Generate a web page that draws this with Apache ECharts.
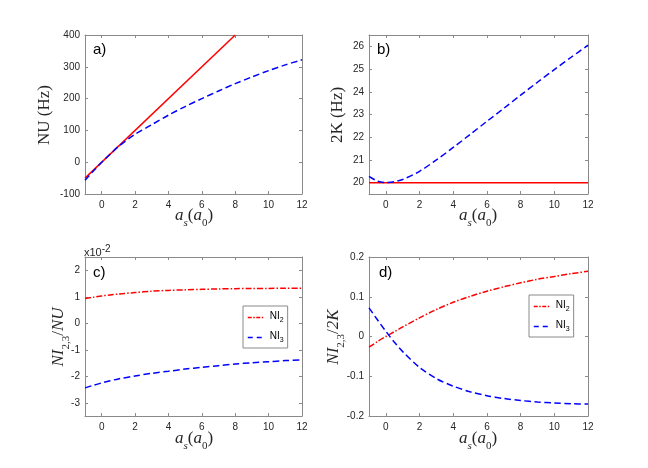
<!DOCTYPE html>
<html>
<head>
<meta charset="utf-8">
<script src="https://cdn.jsdelivr.net/npm/echarts@6/dist/echarts.min.js"></script>
<style>
  html, body { margin: 0; padding: 0; background: #fff; }
  #main { width: 648px; height: 468px; }
</style>
</head>
<body>
<div id="main"></div>
<script>
// x samples (a_s in units of a_0)
let xs = [-1, -0.5, 0, 0.5, 1, 2, 3, 4, 5, 6, 7, 8, 9, 10, 11, 12];
let xTicks = [0, 2, 4, 6, 8, 10, 12];

// a) NU (Hz)
let aLineX = [-1, 8];
let aLineY = [-50, 400];
let aDash = [-57, -28, 0, 25, 49, 88, 118, 148, 175, 200, 224, 247, 268, 288, 306, 322];
let aTicks = [-100, 0, 100, 200, 300, 400];

// b) 2K (Hz)
let bLineX = [-1, 12];
let bLineY = [20, 20];
let bDash = [20.28, 20.07, 20.0, 20.04, 20.14, 20.5, 21.0, 21.55, 22.12, 22.7, 23.27, 23.85, 24.42, 24.98, 25.52, 26.05];
let bTicks = [20, 21, 22, 23, 24, 25, 26];

// c) NI_{2,3}/NU, in units of 1e-2
let cNI2 = [0.93, 0.98, 1.03, 1.07, 1.10, 1.16, 1.21, 1.24, 1.26, 1.28, 1.295, 1.305, 1.31, 1.315, 1.32, 1.32];
let cNI3 = [-2.44, -2.34, -2.25, -2.17, -2.10, -1.99, -1.89, -1.81, -1.73, -1.66, -1.60, -1.54, -1.49, -1.45, -1.41, -1.38];
let cTicks = [-3, -2, -1, 0, 1, 2];

// d) NI_{2,3}/2K
let dNI2 = [-0.027, -0.013, 0.0, 0.012, 0.024, 0.047, 0.068, 0.086, 0.101, 0.114, 0.125, 0.135, 0.144, 0.151, 0.158, 0.164];
let dNI3 = [0.072, 0.042, 0.013, -0.014, -0.038, -0.078, -0.106, -0.125, -0.139, -0.149, -0.156, -0.161, -0.165, -0.167, -0.169, -0.170];
let dTicks = [-0.2, -0.1, 0, 0.1, 0.2];

function pairs(x, y) {
    let out = [];
    for (let i = 0; i < x.length; i++) out.push([x[i], y[i]]);
    return out;
}

let AXIS_COLOR = '#8a8a8a';
let LABEL_COLOR = '#262626';
let grids = [
    {left: 85, top: 35, width: 217, height: 159},
    {left: 369, top: 35, width: 219, height: 159},
    {left: 85, top: 257, width: 217, height: 159},
    {left: 369, top: 257, width: 219, height: 159}
];
let xAxes = [];
let yAxes = [];

function addAxes(g, yMin, yMax, yTickVals) {
    let line = {show: true, onZero: false, lineStyle: {color: AXIS_COLOR, width: 1}};
    let label = {fontFamily: 'Liberation Sans', fontSize: 10, color: LABEL_COLOR};
    ['bottom', 'top'].forEach(function (pos) {
        xAxes.push({
            type: 'value', gridIndex: g, position: pos, min: -1, max: 12,
            axisLine: line,
            axisTick: {show: true, inside: true, length: 3, customValues: xTicks, lineStyle: {color: AXIS_COLOR}},
            axisLabel: Object.assign({show: pos === 'bottom', margin: 6, customValues: xTicks}, label),
            splitLine: {show: false}
        });
    });
    ['left', 'right'].forEach(function (pos) {
        yAxes.push({
            type: 'value', gridIndex: g, position: pos, min: yMin, max: yMax,
            axisLine: line,
            axisTick: {show: true, inside: true, length: 3, customValues: yTickVals, lineStyle: {color: AXIS_COLOR}},
            axisLabel: Object.assign({show: pos === 'left', margin: 5, customValues: yTickVals}, label),
            splitLine: {show: false}
        });
    });
}
addAxes(0, -100, 400, aTicks);
addAxes(1, 19.5, 26.5, bTicks);
addAxes(2, -3.5, 2.5, cTicks);
addAxes(3, -0.2, 0.2, dTicks);

let RED = '#ff0000';
let BLUE = '#0000ff';
let DASH = [6.5, 3.5];
let DASHDOT = [6, 2, 1.5, 2];

function line(name, g, data, color, type) {
    return {
        name: name, type: 'line', xAxisIndex: 2 * g, yAxisIndex: 2 * g,
        data: data, symbol: 'none', smooth: 0.3, clip: true,
        lineStyle: {color: color, width: 1.5, type: type},
        itemStyle: {color: color}
    };
}

let series = [
    line('NU lin', 0, pairs(aLineX, aLineY), RED, 'solid'),
    line('NU', 0, pairs(xs, aDash), BLUE, DASH),
    line('2K lin', 1, pairs(bLineX, bLineY), RED, 'solid'),
    line('2K', 1, pairs(xs, bDash), BLUE, DASH),
    line('NI2', 2, pairs(xs, cNI2), RED, DASHDOT),
    line('NI3', 2, pairs(xs, cNI3), BLUE, DASH),
    line('NI2', 3, pairs(xs, dNI2), RED, DASHDOT),
    line('NI3', 3, pairs(xs, dNI3), BLUE, DASH)
];

let hiddenSymbol = {color: 'rgba(0,0,0,0)', borderColor: 'rgba(0,0,0,0)', borderWidth: 0, opacity: 0};
function legendAt(left, top) {
    return {
        data: [
            {name: 'NI2', itemStyle: hiddenSymbol, lineStyle: {color: RED, width: 1.5, type: [4, 1.5, 1.5, 1.5]}},
            {name: 'NI3', itemStyle: hiddenSymbol, lineStyle: {color: BLUE, width: 1.5, type: [5, 4]}}
        ],
        orient: 'vertical', left: left, top: top,
        itemWidth: 17, itemHeight: 8, itemGap: 7, padding: [5, 4, 4, 4],
        borderColor: '#8a8a8a', borderWidth: 1, backgroundColor: '#fff',
        selectedMode: false,
        itemStyle: hiddenSymbol,
        formatter: function (n) { return '{n|NI}{s|' + n.slice(2) + '}'; },
        textStyle: {
            fontFamily: 'Liberation Sans', fontSize: 9, color: '#000',
            rich: {
                n: {fontSize: 10, lineHeight: 13, verticalAlign: 'top'},
                s: {fontSize: 7, lineHeight: 13, verticalAlign: 'bottom'}
            }
        }
    };
}

let serifRich = {
    i: {fontFamily: 'Liberation Serif', fontStyle: 'italic', fontSize: 17, lineHeight: 21, verticalAlign: 'top'},
    r: {fontFamily: 'Liberation Serif', fontSize: 17, lineHeight: 21, verticalAlign: 'top'},
    si: {fontFamily: 'Liberation Serif', fontStyle: 'italic', fontSize: 11, lineHeight: 21, verticalAlign: 'bottom'},
    s: {fontFamily: 'Liberation Serif', fontSize: 11, lineHeight: 21, verticalAlign: 'bottom'}
};

function mathText(x, y, text, rot) {
    return {
        type: 'text', x: x, y: y, rotation: rot || 0,
        style: {text: text, rich: serifRich, fill: LABEL_COLOR, align: 'center', verticalAlign: 'middle'}
    };
}
function panelTag(x, y, t) {
    return {
        type: 'text', x: x, y: y,
        style: {text: t, fontFamily: 'Liberation Sans', fontSize: 15, fill: '#000', align: 'left', verticalAlign: 'middle'}
    };
}

let xLabel = '{i|a}{si|s}{r|(}{i|a}{s|0}{r|)}';
let graphics = [
    mathText(194, 218, xLabel),
    mathText(478, 218, xLabel),
    mathText(194, 441, xLabel),
    mathText(478, 441, xLabel),
    mathText(47, 115, '{r|NU (Hz)}', Math.PI / 2),
    mathText(340, 115, '{r|2K (Hz)}', Math.PI / 2),
    mathText(61, 337, '{i|NI}{s|2,3}{r|/}{i|NU}', Math.PI / 2),
    mathText(336, 337, '{i|NI}{s|2,3}{r|/}{i|2K}', Math.PI / 2),
    panelTag(93, 50, 'a)'),
    panelTag(377, 50, 'b)'),
    panelTag(93, 273, 'c)'),
    panelTag(379, 273, 'd)'),
    {
        type: 'text', x: 84, y: 251,
        style: {
            text: '{b|x10}{e|-2}', align: 'left', verticalAlign: 'middle', fill: LABEL_COLOR,
            rich: {
                b: {fontFamily: 'Liberation Sans', fontSize: 11, lineHeight: 14, verticalAlign: 'bottom'},
                e: {fontFamily: 'Liberation Sans', fontSize: 10, lineHeight: 14, verticalAlign: 'top'}
            }
        }
    }
];

let myChart = echarts.init(document.getElementById('main'));
let option = {
    animation: false,
    backgroundColor: '#fff',
    grid: grids,
    xAxis: xAxes,
    yAxis: yAxes,
    legend: [legendAt(243, 306), legendAt(529, 295)],
    series: series,
    graphic: graphics
};
myChart.setOption(option);
</script>
</body>
</html>
